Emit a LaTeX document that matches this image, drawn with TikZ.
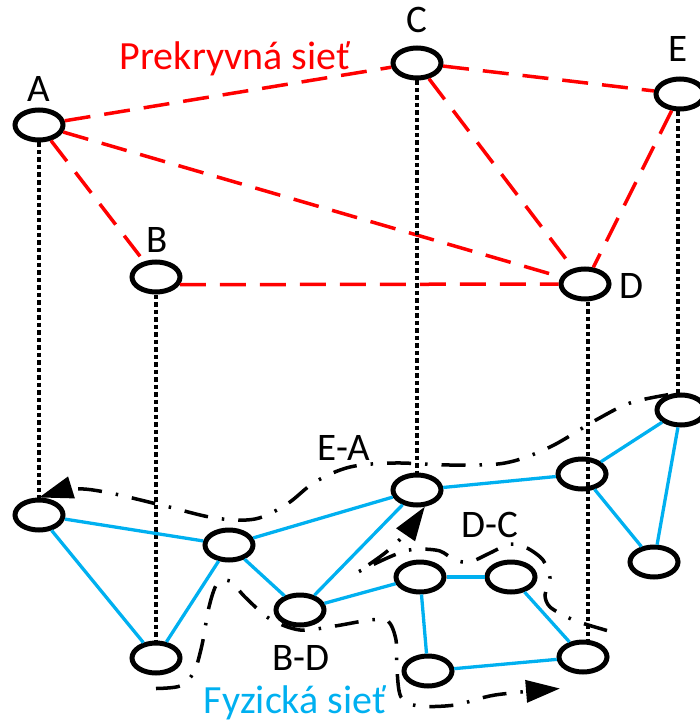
\documentclass[tikz,border=0pt]{standalone}
\usepackage{fontspec}
\setmainfont{Carlito}
\usetikzlibrary{arrows.meta,shapes.geometric,calc}
\definecolor{phys}{HTML}{00B0F0}
\definecolor{ovl}{HTML}{FF0000}
\begin{document}
\begin{tikzpicture}[x=1pt,y=-1pt,
  nd/.style={ellipse,draw=black,line width=5pt,minimum width=48pt,minimum height=30pt,inner sep=0pt},
  lbl/.style={font=\fontsize{39}{41}\selectfont,anchor=base,inner sep=0pt},
  big/.style={font=\fontsize{40}{42}\selectfont},
  ovedge/.style={draw=ovl,line width=3.5pt,dash pattern=on 26pt off 14pt},
  phedge/.style={draw=phys,line width=3.3pt},
  vdots/.style={draw=black,line width=3.3pt,dash pattern=on 4.5pt off 3pt},
  route/.style={draw=black,line width=3.5pt,dash pattern=on 24pt off 14pt on 2.5pt off 14pt},
  tip/.style={-{Triangle[length=34pt,width=22pt]}}
]
\useasboundingbox (0,0) rectangle (699,722);

% overlay nodes
\node[nd] (A) at (39,125) {};
\node[nd] (B) at (156,277) {};
\node[nd] (C) at (417,63) {};
\node[nd] (D) at (585,284) {};
\node[nd] (E) at (680,94) {};

% physical nodes
\node[nd] (p1) at (39,515) {};
\node[nd] (p2) at (229,545) {};
\node[nd] (p3) at (156,658) {};
\node[nd] (p4) at (300,610) {};
\node[nd] (p5) at (417,490) {};
\node[nd] (p6) at (582,474) {};
\node[nd] (p7) at (681,410) {};
\node[nd] (p8) at (654,562) {};
\node[nd] (p9) at (420,577) {};
\node[nd] (p10) at (511,577) {};
\node[nd] (p11) at (428,671) {};
\node[nd] (p12) at (583,657) {};

% labels
\node[lbl] (lA) at (39,102) {A};
\node[lbl] (lB) at (157,252) {B};
\node[lbl] (lC) at (417,33) {C};
\node[lbl] (lD) at (631,298) {D};
\node[lbl] (lE) at (678,62) {E};
\node[lbl,big,text=ovl] (lover) at (235,70) {Prekryvná sieť};
\node[lbl,big,text=phys] (lphys) at (295,713) {Fyzická sieť};
\node[lbl] (lEA) at (344,460) {E-A};
\node[lbl] (lBD) at (301,670) {B-D};
\node[lbl] (lDC) at (490,537) {D-C};

% overlay edges
\draw[ovedge] (A) -- (C);
\draw[ovedge] (A) -- (B);
\draw[ovedge] (A) -- (D);
\draw[ovedge] (B.-18) -- (D.west);
\draw[ovedge] (C) -- (D);
\draw[ovedge] (C) -- (E);
\draw[ovedge] (E) -- (D);

% vertical mapping lines
\draw[vdots] (A.south) -- (p1.north);
\draw[vdots] (B.south) -- (p3.north);
\draw[vdots] (C.south) -- (p5.north);
\draw[vdots] ($(D.south)+(3,0)$) -- ($(p12.north)+(5,0)$);
\draw[vdots] ($(E.south)+(-2,0)$) -- ($(p7.north)+(-3,0)$);

% physical edges
\draw[phedge] (p1) -- (p2);
\draw[phedge] (p1) -- (p3);
\draw[phedge] (p2) -- (p3);
\draw[phedge] (p2) -- (p5);
\draw[phedge] (p2) -- (p4);
\draw[phedge] (p4) -- (p5);
\draw[phedge] (p4) -- (p9);
\draw[phedge] (p5) -- (p6);
\draw[phedge] (p6) -- (p7);
\draw[phedge] (p6) -- (p8);
\draw[phedge] (p7) -- (p8);
\draw[phedge] (p9) -- (p10);
\draw[phedge] (p9) -- (p11);
\draw[phedge] (p10) -- (p12);
\draw[phedge] (p11) -- (p12);

% routes
\draw[route,tip] plot[smooth,tension=0.55] coordinates {(p7.130) (630,403) (596,420) (550,447) (505,463) (450,465) (395,463) (350,467) (315,482) (287,504) (255,519) (215,518) (165,506) (110,493) (75,489) (p1.north)};

\draw[route,tip] plot[smooth,tension=0.5] coordinates {($(p3.south)+(0,13)$) (180,686) (194,672) (202,645) (209,607) (217,584) (230,581) (245,597) (270,619) (300,630) (335,626) (370,620) (388,621) (396,640) (397,670) (401,697) (418,706) (455,705) (495,695) ($(p12.south)+(-23,14)$)};

\draw[route,tip] plot[smooth,tension=0.5] coordinates {($(p12.north)+(24,-9)$) (585,624) (569,618) (550,607) (545,595) (550,578) (543,560) (527,548) (510,544) (490,553) (470,562) (455,560) (440,551) (420,549) (405,551) (385,559) (358,572)} --plot[smooth,tension=0.5] coordinates {(358,572) (385,553) (405,534) (p5.-65)};
\end{tikzpicture}
\end{document}
